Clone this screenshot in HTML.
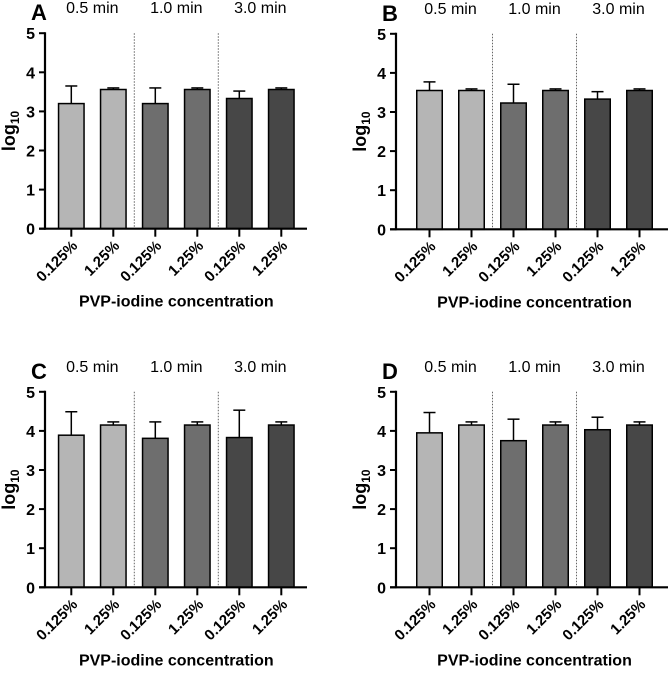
<!DOCTYPE html>
<html><head><meta charset="utf-8"><style>
body{margin:0;background:#fff}
svg text{font-family:"Liberation Sans",Arial,sans-serif}
</style></head><body>
<svg id="c" width="669" height="669" viewBox="0 0 669 669"></svg>
<script>
const categories=["0.125%","1.25%","0.125%","1.25%","0.125%","1.25%"];
const groups=["0.5 min","1.0 min","3.0 min"];
const yTicks=[0,1,2,3,4,5];
const valuesA=[3.20,3.56,3.20,3.56,3.33,3.56];
const errorsA=[3.65,3.60,3.60,3.60,3.52,3.60];
const valuesB=[3.55,3.55,3.23,3.55,3.33,3.55];
const errorsB=[3.77,3.59,3.71,3.59,3.52,3.59];
const valuesC=[3.89,4.15,3.81,4.15,3.83,4.15];
const errorsC=[4.49,4.23,4.23,4.23,4.53,4.23];
const valuesD=[3.95,4.15,3.75,4.15,4.03,4.15];
const errorsD=[4.47,4.23,4.30,4.23,4.35,4.23];
const fills=["#b5b5b5","#b5b5b5","#6e6e6e","#6e6e6e","#474747","#474747"];
const svg=document.getElementById('c');
const NS="http://www.w3.org/2000/svg";
function mk(tag,attrs,parent,text){const e=document.createElementNS(NS,tag);for(const k in attrs)e.setAttribute(k,attrs[k]);if(text!==undefined)e.textContent=text;parent.appendChild(e);return e;}
const panels=[
 {id:"a",letter:"A",ox:45,oy:228.7,first:26.3,end:307,vals:valuesA,errs:errorsA},
 {id:"b",letter:"B",ox:396,oy:229.3,first:33.5,end:668,vals:valuesB,errs:errorsB},
 {id:"c",letter:"C",ox:45,oy:587.3,first:26.3,end:307,vals:valuesC,errs:errorsC},
 {id:"d",letter:"D",ox:396,oy:587.3,first:33.5,end:668,vals:valuesD,errs:errorsD}
];
const unit=39.1,step=42,bw=25.5;
panels.forEach(p=>{
 const g=mk('g',{},svg);
 
 
 const y=v=>p.oy-v*unit;
 const x=i=>p.ox+p.first+i*step;
 [1,2].forEach(k=>{
  const sx=(x(2*k-1)+x(2*k))/2;
  const l=mk('line',{x1:sx,x2:sx,y1:y(5),y2:p.oy,stroke:"#666","stroke-width":1,"stroke-dasharray":"1.5,1.5"},g);
  
  
 });
 p.vals.forEach((v,i)=>{
  const cx=x(i);
  const e=mk('line',{x1:cx,x2:cx,y1:y(v),y2:y(p.errs[i]),stroke:"#000","stroke-width":1.5},g);
  
  
  const c=mk('line',{x1:cx-6,x2:cx+6,y1:y(p.errs[i]),y2:y(p.errs[i]),stroke:"#000","stroke-width":1.5},g);
  
  
  const r=mk('rect',{x:cx-bw/2,y:y(v),width:bw,height:v*unit,fill:fills[i],stroke:"#000","stroke-width":1.5},g);
  
  
  const t=mk('line',{x1:cx,x2:cx,y1:p.oy,y2:p.oy+8,stroke:"#000","stroke-width":2},g);
  
  
  const lb=mk('text',{x:0,y:0,transform:`translate(${cx+7},${p.oy+18}) rotate(-45)`,"text-anchor":"end","font-size":15,"font-weight":"bold"},g,categories[i]);
  
  
 });
 const ya=mk('line',{x1:p.ox,x2:p.ox,y1:y(5)-1,y2:p.oy+1,stroke:"#000","stroke-width":2.2},g);
 
 
 const xa=mk('line',{x1:p.ox-6,x2:p.end,y1:p.oy,y2:p.oy,stroke:"#000","stroke-width":2.2},g);
 
 
 yTicks.forEach(v=>{
  const tk=mk('line',{x1:p.ox-6,x2:p.ox,y1:y(v),y2:y(v),stroke:"#000","stroke-width":2},g);
  
  
  const tl=mk('text',{x:p.ox-10,y:y(v)+6,"text-anchor":"end","font-size":16,"font-weight":"bold"},g,String(v));
  
  
 });
 groups.forEach((gn,k)=>{
  const gx=(x(2*k)+x(2*k+1))/2;
  const ht=mk('text',{x:gx,y:y(5)-20,"text-anchor":"middle","font-size":16},g,gn);
  
  
 });
 const lt=mk('text',{x:p.ox-14,y:y(5)-13,"font-size":22,"font-weight":"bold"},g,p.letter);
 
 
 const yt=mk('text',{x:0,y:0,transform:`translate(${p.ox-30},${y(2.5)}) rotate(-90)`,"text-anchor":"middle","font-size":18,"font-weight":"bold"},g);
 
 
 mk('tspan',{},yt,"log");
 mk('tspan',{"font-size":12,dy:4},yt,"10");
 const xt=mk('text',{x:(x(0)+x(5))/2,y:p.oy+78,"text-anchor":"middle","font-size":16,"font-weight":"bold"},g,"PVP-iodine concentration");
 
 
});
</script>
</body></html>
